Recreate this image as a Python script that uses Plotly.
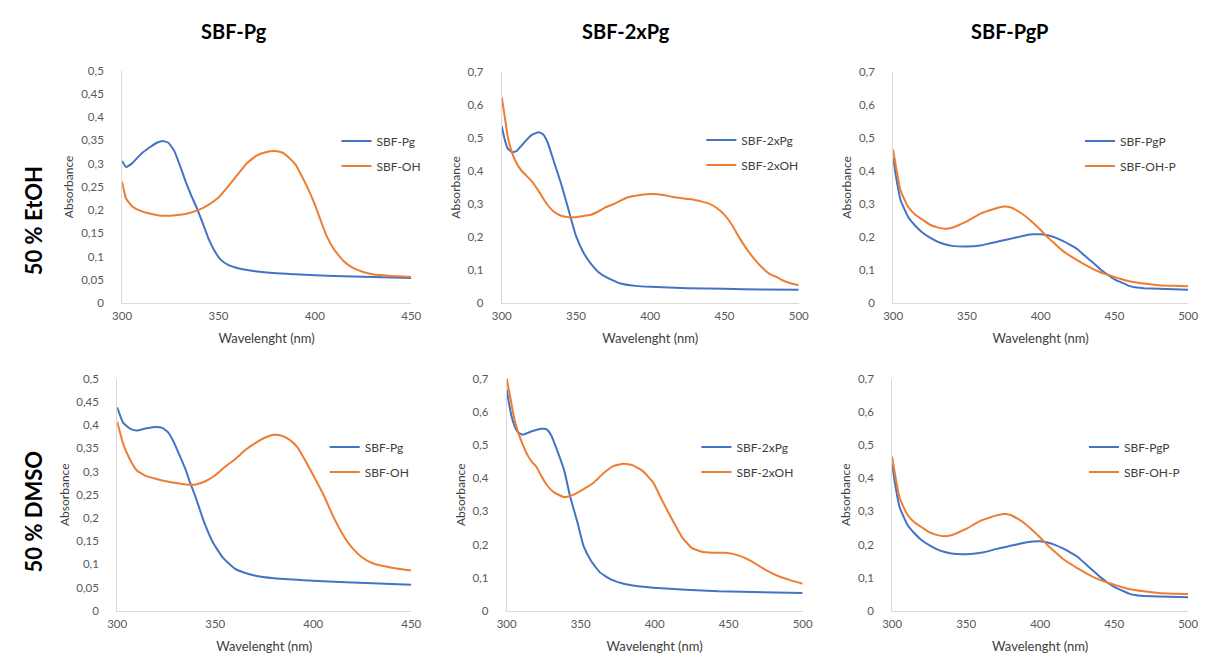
import plotly.graph_objects as go

BLUE = "#4472C4"
ORANGE = "#ED7D31"

# ---------- data ----------
col_titles = ["SBF-Pg", "SBF-2xPg", "SBF-PgP"]
row_titles = ["50 % EtOH", "50 % DMSO"]

# Panel 1: EtOH, SBF-Pg / SBF-OH
p1_pg_x = [300, 302, 305, 308, 311, 315, 318, 321, 324, 327, 330, 333, 336, 339, 342, 345, 348, 351, 355, 360, 365, 370, 380, 390, 400, 420, 450]
p1_pg_y = [0.306, 0.293, 0.300, 0.313, 0.325, 0.337, 0.345, 0.349, 0.345, 0.328, 0.296, 0.261, 0.230, 0.202, 0.170, 0.137, 0.112, 0.094, 0.082, 0.075, 0.071, 0.068, 0.064, 0.062, 0.060, 0.057, 0.054]
p1_oh_x = [300, 302, 305, 308, 312, 316, 320, 325, 330, 335, 340, 345, 350, 355, 360, 365, 370, 375, 379, 383, 386, 390, 393, 396, 400, 403, 406, 410, 415, 420, 425, 430, 440, 450]
p1_oh_y = [0.261, 0.225, 0.209, 0.201, 0.195, 0.191, 0.188, 0.188, 0.190, 0.194, 0.201, 0.212, 0.227, 0.251, 0.277, 0.302, 0.318, 0.325, 0.327, 0.324, 0.315, 0.298, 0.275, 0.250, 0.212, 0.178, 0.145, 0.115, 0.090, 0.075, 0.067, 0.062, 0.058, 0.056]

# Panel 2: EtOH, SBF-2xPg / SBF-2xOH
p2_pg_x = [300, 302, 304, 307, 310, 315, 320, 325, 328, 331, 335, 340, 345, 350, 355, 360, 365, 370, 380, 390, 400, 425, 450, 475, 500]
p2_pg_y = [0.535, 0.495, 0.468, 0.456, 0.460, 0.485, 0.508, 0.517, 0.510, 0.485, 0.430, 0.361, 0.282, 0.203, 0.153, 0.119, 0.094, 0.079, 0.059, 0.052, 0.049, 0.045, 0.043, 0.041, 0.040]
p2_oh_x = [300, 302, 304, 306, 309, 313, 316, 320, 325, 330, 335, 340, 345, 350, 360, 365, 370, 375, 380, 385, 390, 400, 405, 410, 415, 420, 425, 430, 435, 440, 445, 450, 455, 460, 465, 470, 475, 480, 485, 490, 495, 500]
p2_oh_y = [0.624, 0.565, 0.505, 0.468, 0.432, 0.402, 0.388, 0.370, 0.338, 0.302, 0.277, 0.264, 0.260, 0.260, 0.267, 0.277, 0.290, 0.299, 0.310, 0.320, 0.325, 0.330, 0.329, 0.326, 0.321, 0.318, 0.315, 0.312, 0.307, 0.300, 0.287, 0.267, 0.237, 0.198, 0.163, 0.134, 0.109, 0.089, 0.079, 0.067, 0.059, 0.054]

# Panel 3: EtOH, SBF-PgP / SBF-OH-P
p3_pg_x = [300, 302, 305, 310, 315, 320, 325, 330, 335, 340, 350, 360, 365, 370, 375, 380, 385, 390, 395, 400, 405, 410, 415, 420, 425, 430, 435, 440, 445, 450, 455, 460, 465, 470, 480, 500]
p3_pg_y = [0.440, 0.381, 0.312, 0.262, 0.234, 0.213, 0.198, 0.186, 0.178, 0.173, 0.171, 0.175, 0.180, 0.185, 0.190, 0.195, 0.200, 0.205, 0.208, 0.208, 0.205, 0.198, 0.188, 0.176, 0.163, 0.143, 0.124, 0.104, 0.087, 0.072, 0.062, 0.052, 0.047, 0.045, 0.043, 0.040]
p3_oh_x = [300, 302, 305, 310, 315, 320, 325, 330, 335, 340, 345, 350, 355, 360, 365, 370, 375, 380, 385, 390, 395, 400, 405, 410, 415, 420, 425, 430, 435, 440, 445, 450, 455, 460, 470, 480, 490, 500]
p3_oh_y = [0.465, 0.410, 0.341, 0.292, 0.267, 0.252, 0.237, 0.229, 0.225, 0.228, 0.237, 0.247, 0.260, 0.272, 0.280, 0.287, 0.292, 0.289, 0.277, 0.262, 0.242, 0.221, 0.198, 0.178, 0.158, 0.143, 0.129, 0.116, 0.104, 0.094, 0.086, 0.079, 0.072, 0.066, 0.059, 0.054, 0.052, 0.051]

# Panel 4: DMSO, SBF-Pg / SBF-OH
p4_pg_x = [300, 303, 307, 310, 315, 320, 323, 326, 329, 332, 335, 337, 340, 344, 349, 354, 360, 365, 370, 380, 395, 420, 450]
p4_pg_y = [0.438, 0.405, 0.391, 0.388, 0.393, 0.396, 0.394, 0.384, 0.362, 0.333, 0.303, 0.278, 0.245, 0.195, 0.146, 0.114, 0.091, 0.082, 0.076, 0.070, 0.066, 0.061, 0.056]
p4_oh_x = [300, 303, 306, 310, 315, 320, 325, 330, 335, 340, 345, 350, 355, 360, 365, 370, 375, 380, 384, 388, 392, 396, 400, 405, 410, 415, 420, 425, 430, 435, 440, 450]
p4_oh_y = [0.407, 0.360, 0.330, 0.302, 0.290, 0.284, 0.279, 0.275, 0.272, 0.272, 0.279, 0.292, 0.310, 0.326, 0.345, 0.360, 0.372, 0.379, 0.377, 0.368, 0.352, 0.323, 0.292, 0.252, 0.205, 0.165, 0.135, 0.115, 0.103, 0.097, 0.093, 0.087]

# Panel 5: DMSO, SBF-2xPg / SBF-2xOH
p5_pg_x = [300, 302, 304, 306, 308, 311, 317, 323, 327, 330, 334, 339, 343, 348, 352, 357, 363, 370, 379, 388, 399, 421, 443, 500]
p5_pg_y = [0.667, 0.615, 0.575, 0.550, 0.537, 0.531, 0.541, 0.549, 0.547, 0.530, 0.485, 0.421, 0.343, 0.264, 0.195, 0.151, 0.116, 0.096, 0.082, 0.075, 0.070, 0.064, 0.059, 0.054]
p5_oh_x = [300, 302, 304, 306, 308, 311, 314, 317, 320, 323, 327, 332, 338, 341, 346, 352, 359, 365, 372, 379, 385, 392, 399, 405, 412, 419, 425, 432, 439, 448, 456, 465, 474, 483, 492, 500]
p5_oh_y = [0.700, 0.655, 0.605, 0.565, 0.535, 0.500, 0.470, 0.450, 0.435, 0.410, 0.380, 0.357, 0.344, 0.344, 0.352, 0.367, 0.387, 0.413, 0.436, 0.443, 0.439, 0.421, 0.387, 0.333, 0.274, 0.219, 0.190, 0.178, 0.175, 0.175, 0.168, 0.151, 0.126, 0.106, 0.092, 0.082]

# Panel 6: DMSO, SBF-PgP / SBF-OH-P
p6_pg_x = [300, 302, 305, 310, 315, 320, 325, 330, 335, 340, 350, 360, 365, 370, 375, 380, 385, 390, 395, 400, 405, 410, 415, 420, 425, 430, 435, 440, 445, 450, 455, 460, 465, 470, 480, 500]
p6_pg_y = [0.441, 0.382, 0.313, 0.262, 0.234, 0.213, 0.198, 0.186, 0.178, 0.173, 0.171, 0.175, 0.180, 0.186, 0.191, 0.196, 0.201, 0.206, 0.209, 0.210, 0.206, 0.199, 0.189, 0.177, 0.164, 0.144, 0.124, 0.104, 0.087, 0.072, 0.062, 0.052, 0.047, 0.045, 0.043, 0.041]
p6_oh_x = [300, 302, 305, 310, 315, 320, 325, 330, 335, 340, 345, 350, 355, 360, 365, 370, 375, 380, 385, 390, 395, 400, 405, 410, 415, 420, 425, 430, 435, 440, 445, 450, 455, 460, 470, 480, 490, 500]
p6_oh_y = [0.465, 0.410, 0.341, 0.292, 0.267, 0.252, 0.237, 0.229, 0.225, 0.228, 0.237, 0.247, 0.260, 0.272, 0.280, 0.287, 0.292, 0.289, 0.277, 0.262, 0.242, 0.221, 0.198, 0.178, 0.158, 0.143, 0.129, 0.116, 0.104, 0.094, 0.086, 0.079, 0.072, 0.066, 0.059, 0.054, 0.052, 0.051]

panels = [
    dict(xs=(p1_pg_x, p1_oh_x), ys=(p1_pg_y, p1_oh_y), names=("SBF-Pg", "SBF-OH"), xr=(300, 450), yr=(0, 0.5), dt=0.05),
    dict(xs=(p2_pg_x, p2_oh_x), ys=(p2_pg_y, p2_oh_y), names=("SBF-2xPg", "SBF-2xOH"), xr=(300, 500), yr=(0, 0.7), dt=0.1),
    dict(xs=(p3_pg_x, p3_oh_x), ys=(p3_pg_y, p3_oh_y), names=("SBF-PgP", "SBF-OH-P"), xr=(300, 500), yr=(0, 0.7), dt=0.1),
    dict(xs=(p4_pg_x, p4_oh_x), ys=(p4_pg_y, p4_oh_y), names=("SBF-Pg", "SBF-OH"), xr=(300, 450), yr=(0, 0.5), dt=0.05),
    dict(xs=(p5_pg_x, p5_oh_x), ys=(p5_pg_y, p5_oh_y), names=("SBF-2xPg", "SBF-2xOH"), xr=(300, 500), yr=(0, 0.7), dt=0.1),
    dict(xs=(p6_pg_x, p6_oh_x), ys=(p6_pg_y, p6_oh_y), names=("SBF-PgP", "SBF-OH-P"), xr=(300, 500), yr=(0, 0.7), dt=0.1),
]

# ---------- layout geometry (pixels) ----------
W, H = 1208, 661
boxes = [  # left, right, top, bottom
    (114, 408, 65, 302), (500, 802, 66, 302), (898, 1198, 66, 302),
    (109, 408, 379, 616), (505, 806, 379, 616), (897, 1198, 379, 616),
]
legend_pos = [(332, 122), (703, 121), (1088, 122), (320, 434), (698, 434), (1092, 434)]

FONT = "Lato, 'Open Sans', sans-serif"
fig = go.Figure()
layout = dict(
    width=W, height=H, margin=dict(l=0, r=0, t=0, b=0),
    paper_bgcolor="white", plot_bgcolor="white",
    separators=", ", showlegend=True,
    font=dict(family=FONT, color="#595959", size=11),
    annotations=[],
)

for i, p in enumerate(panels):
    n = "" if i == 0 else str(i + 1)
    l, r, t, b = boxes[i]
    leg = "legend" if i == 0 else f"legend{i+1}"
    for k, color in enumerate((BLUE, ORANGE)):
        fig.add_trace(go.Scatter(
            x=p["xs"][k], y=p["ys"][k], name=p["names"][k], mode="lines",
            line=dict(color=color, width=2, shape="spline", smoothing=0.4),
            xaxis="x" + n, yaxis="y" + n, legend=leg, legendgroup=f"g{i}_{k}",
            hoverinfo="skip",
        ))
    layout["xaxis" + n] = dict(
        domain=[l / W, r / W], anchor="y" + n, range=list(p["xr"]), dtick=50,
        showgrid=False, zeroline=False, showline=True, linecolor="#D9D9D9", linewidth=1,
        ticks="", ticklabelstandoff=2, tickfont=dict(size=11.5, color="#595959"), fixedrange=True,
        title=dict(text="Wavelenght (nm)", font=dict(size=13, color="#404040"), standoff=13),
    )
    layout["yaxis" + n] = dict(
        domain=[1 - b / H, 1 - t / H], anchor="x" + n, range=list(p["yr"]), dtick=p["dt"],
        showgrid=False, zeroline=False, showline=True, linecolor="#D9D9D9", linewidth=1,
        ticks="", ticklabelstandoff=15, tickfont=dict(size=11.5, color="#595959"), fixedrange=True,
        title=dict(text="Absorbance", font=dict(size=12, color="#404040"), standoff=4),
    )
    lx, ly = legend_pos[i]
    layout[leg] = dict(
        x=lx / W, y=1 - ly / H, xanchor="left", yanchor="top",
        bgcolor="rgba(0,0,0,0)", font=dict(size=12, color="#404040"),
        tracegroupgap=6, itemwidth=30,
    )

for j, txt in enumerate(col_titles):
    cx = [228, 626, 1016][j]
    layout["annotations"].append(dict(
        text=f"<b>{txt}</b>", x=cx / W, y=1 - 24 / H, xref="paper", yref="paper",
        showarrow=False, font=dict(size=20, color="black", family=FONT),
        xanchor="center", yanchor="middle"))
for j, txt in enumerate(row_titles):
    cy = [218, 515][j]
    layout["annotations"].append(dict(
        text=f"<b>{txt}</b>", x=24 / W, y=1 - cy / H, xref="paper", yref="paper",
        showarrow=False, textangle=-90, font=dict(size=22, color="black", family=FONT),
        xanchor="center", yanchor="middle"))

fig.update_layout(**layout)
fig.write_html("out.html")
